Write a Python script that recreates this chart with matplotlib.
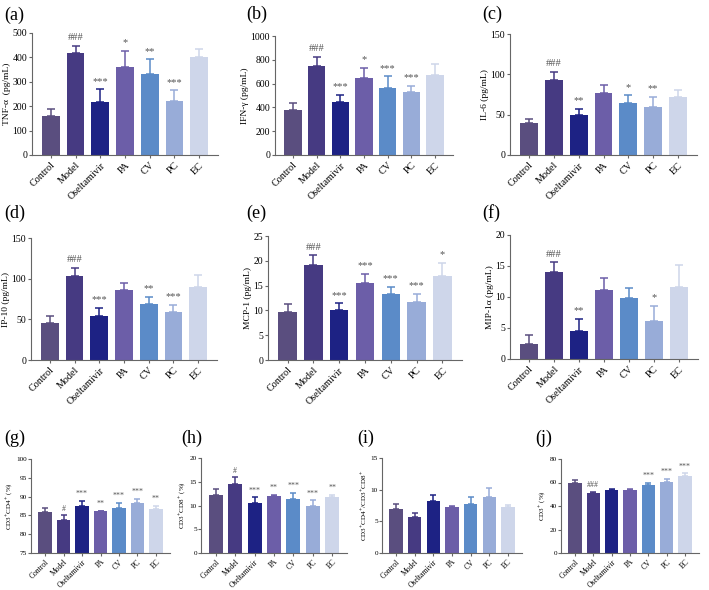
import matplotlib
matplotlib.use("Agg")
import matplotlib.pyplot as plt

plt.rcParams['font.family'] = ['Liberation Serif', 'DejaVu Serif']
plt.rcParams['mathtext.fontset'] = 'stix'

groups = ["Control", "Model", "Oseltamivir", "PA", "CV", "PC", "EC"]
colors = ["#5a4e7f", "#463a82", "#1d2284", "#6c5ea8", "#5b8bc8", "#98acd8", "#ced6ea"]

# cytokines (pg/mL): mean, SD, significance marks
tnf = [158, 420, 217, 362, 330, 222, 403]
tnf_sd = [30, 28, 52, 65, 62, 43, 33]
tnf_sig = ["", "###", "***", "*", "**", "***", ""]

ifn = [378, 750, 443, 650, 560, 527, 672]
ifn_sd = [55, 75, 65, 85, 100, 57, 92]
ifn_sig = ["", "###", "***", "*", "***", "***", ""]

il6 = [40, 93, 50, 77, 65, 60, 72]
il6_sd = [5, 10, 7, 10, 9, 12, 9]
il6_sig = ["", "###", "**", "", "*", "**", ""]

ip10 = [46, 103, 54, 86, 69, 59, 90]
ip10_sd = [8, 10, 10, 9, 9, 9, 14]
ip10_sig = ["", "###", "***", "", "**", "***", ""]

mcp1 = [9.7, 19.2, 10.0, 15.5, 13.4, 11.6, 17.0]
mcp1_sd = [1.5, 1.9, 1.4, 1.9, 1.4, 1.8, 2.6]
mcp1_sig = ["", "###", "***", "***", "***", "***", "*"]

mip1a = [2.5, 14.1, 4.5, 11.1, 9.9, 6.2, 11.6]
mip1a_sd = [1.3, 1.5, 2.0, 1.9, 1.5, 2.4, 3.5]
mip1a_sig = ["", "###", "**", "", "", "*", ""]

# T cell subsets
cd4 = [86.0, 83.8, 87.6, 86.2, 87.1, 88.4, 86.7]
cd4_sd = [1.0, 1.2, 1.2, 0.1, 1.2, 1.0, 0.9]
cd4_sig = ["", "#", "***", "**", "***", "***", "**"]

cd8 = [12.3, 14.6, 10.6, 11.9, 11.3, 9.9, 11.8]
cd8_sd = [1.1, 1.3, 1.1, 0.4, 1.3, 1.2, 0.5]
cd8_sig = ["", "#", "***", "**", "***", "***", "**"]

ratio = [7.0, 5.7, 8.2, 7.2, 7.7, 8.9, 7.2]
ratio_sd = [0.7, 0.6, 0.9, 0.3, 1.1, 1.3, 0.4]
ratio_sig = ["", "", "", "", "", "", ""]

cd3 = [59.5, 51.0, 53.8, 53.5, 58.0, 60.5, 65.8]
cd3_sd = [3.0, 1.0, 1.0, 1.0, 2.0, 2.5, 2.0]
cd3_sig = ["", "###", "", "", "***", "***", "***"]

W, H = 709, 590
fig = plt.figure(figsize=(W / 100, H / 100), dpi=100)


def px_axes(l, t, r, b):
    return fig.add_axes([l / W, 1 - b / H, (r - l) / W, (b - t) / H])


def panel(box, label, lab_xy, vals, sds, sigs, ylabel, ylim, yticks, small=False):
    ax = px_axes(*box)
    fs = 5.2 if small else 7
    x = range(len(groups))
    ax.bar(x, [v - ylim[0] for v in vals], bottom=ylim[0], width=0.72, color=colors, zorder=2)
    for i in x:
        ax.errorbar(i, vals[i], yerr=[[0], [sds[i]]], fmt='none', ecolor=colors[i],
                    elinewidth=1.1, capsize=3 if not small else 2.3, capthick=1.1, zorder=1)
        if sigs[i]:
            ax.text(i, vals[i] + sds[i] + (ylim[1] - ylim[0]) * 0.03, sigs[i],
                    ha='center', va='bottom', fontsize=fs + 0.5, color='#555555')
    ax.set_xlim(-0.76, 6.76)
    ax.set_ylim(*ylim)
    ax.set_yticks(yticks)
    ax.set_xticks(list(x))
    ax.set_xticklabels(groups, rotation=45, ha='right', rotation_mode='anchor', fontsize=fs + 0.3)
    tl = 2 if small else 2.5
    ax.tick_params(axis='y', labelsize=fs, length=tl, width=0.8, color='#666666', pad=1)
    ax.tick_params(axis='x', length=tl, width=0.8, color='#666666', pad=1.5)
    for s in ["top", "right"]:
        ax.spines[s].set_visible(False)
    for s in ["left", "bottom"]:
        ax.spines[s].set_color('#666666')
        ax.spines[s].set_linewidth(0.8)
    ax.set_ylabel(ylabel, fontsize=fs - 0.2, labelpad=1)
    fig.text(lab_xy[0] / W, 1 - lab_xy[1] / H, label, fontsize=13, ha='left', va='center')
    return ax


panel((32, 33, 218, 155), "(a)", (4, 15), tnf, tnf_sd, tnf_sig,
      "TNF-α  (pg/mL)", (0, 500), [0, 100, 200, 300, 400, 500])
panel((275, 36, 453, 155), "(b)", (246, 14), ifn, ifn_sd, ifn_sig,
      "IFN-γ (pg/mL)", (0, 1000), [0, 200, 400, 600, 800, 1000])
panel((510, 34, 697, 155), "(c)", (482, 14), il6, il6_sd, il6_sig,
      "IL-6 (pg/mL)", (0, 150), [0, 50, 100, 150])
panel((31, 238, 217, 360), "(d)", (4, 213), ip10, ip10_sd, ip10_sig,
      "IP-10 (pg/mL)", (0, 150), [0, 50, 100, 150])
panel((268, 236, 462, 360), "(e)", (246, 213), mcp1, mcp1_sd, mcp1_sig,
      "MCP-1 (pg/mL)", (0, 25), [0, 5, 10, 15, 20, 25])
panel((510, 235, 698, 359), "(f)", (482, 213), mip1a, mip1a_sd, mip1a_sig,
      "MIP-1α (pg/mL)", (0, 20), [0, 5, 10, 15, 20])
panel((31, 459, 170, 553), "(g)", (4, 438), cd4, cd4_sd, cd4_sig,
      r"CD3$^{+}$CD4$^{+}$ (%)", (75, 100), [75, 80, 85, 90, 95, 100], small=True)
panel((201, 458, 347, 553), "(h)", (181, 438), cd8, cd8_sd, cd8_sig,
      r"CD3$^{+}$CD8$^{+}$ (%)", (0, 20), [0, 5, 10, 15, 20], small=True)
panel((382, 458, 522, 553), "(i)", (357, 438), ratio, ratio_sd, ratio_sig,
      r"CD3$^{+}$CD4$^{+}$/CD3$^{+}$CD8$^{+}$", (0, 15), [0, 5, 10, 15], small=True)
panel((561, 459, 699, 553), "(j)", (535, 438), cd3, cd3_sd, cd3_sig,
      r"CD3$^{+}$ (%)", (0, 80), [0, 20, 40, 60, 80], small=True)

fig.savefig("out.png", dpi=100)
